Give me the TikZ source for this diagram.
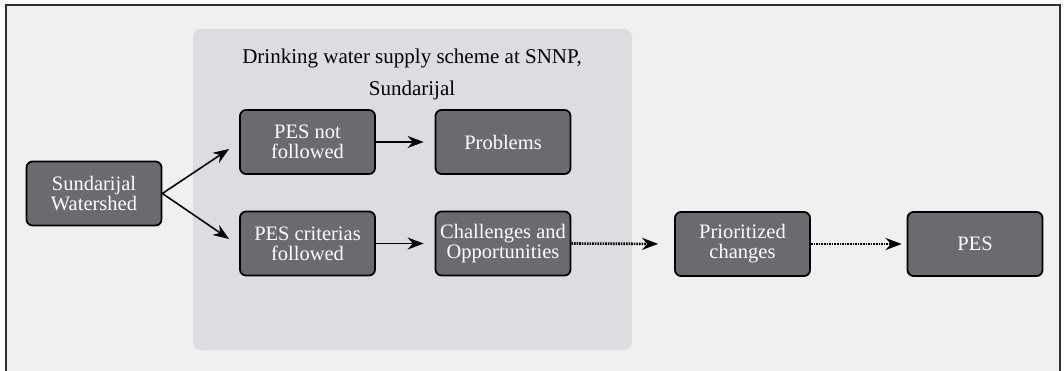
\documentclass[tikz,border=0pt]{standalone}
\usepackage{fontspec}
\setmainfont{Liberation Serif}
\usetikzlibrary{arrows.meta}

\definecolor{bgcol}{HTML}{F0F0F0}
\definecolor{panelcol}{HTML}{DCDDE0}
\definecolor{boxcol}{HTML}{6A6B6F}
\definecolor{framecol}{HTML}{303030}

\tikzset{
  box/.style={draw=black, line width=1.8pt, rounded corners=6pt, fill=boxcol,
    text=white, align=center, minimum width=135pt, minimum height=64pt,
    inner sep=1pt, font=\fontsize{20.5}{20}\selectfont},
  arr/.style={-{Stealth[length=16pt,width=12pt]}, line width=1.6pt},
  dotarr/.style={arr, line width=2.6pt, dash pattern=on 1.6pt off 1pt}
}

\begin{document}
\begin{tikzpicture}[x=1pt,y=-1pt]
  \useasboundingbox (0,0) rectangle (1064,370);
  % frame and shaded panel
  \draw[fill=bgcol, draw=framecol, line width=1.2pt] (6,5) rectangle (1060,380);
  \fill[panelcol, rounded corners=8pt] (193,29) rectangle (632,350);
  \node (title) at (412,74) [align=center, font=\fontsize{21}{32}\selectfont]
    {Drinking water supply scheme at SNNP,\\ Sundarijal};

  \node (sw)[box] at (94,193.5) {Sundarijal\\Watershed};
  \node (pnf)[box] at (307.5,142) {PES not\\followed};
  \node (pcf)[box] at (307.5,243.5) {PES criterias\\followed};
  \node (prob)[box] at (503,142) {Problems};
  \node (chal)[box] at (503,243.5) {Challenges and\\Opportunities};
  \node (prio)[box] at (742.5,244) {Prioritized\\changes};
  \node (pes)[box] at (975,244) {PES};

  \draw[arr] (sw.east) -- ([xshift=-10pt,yshift=-7pt]pnf.west);
  \draw[arr] (sw.east) -- ([xshift=-10pt,yshift=4.5pt]pcf.west);
  \draw[arr, shorten >=11pt] (pnf.east) -- (prob.west);
  \draw[arr, shorten >=11pt] (pcf.east) -- (chal.west);
  \draw[dotarr, shorten >=16pt] (chal.east) -- (prio.west);
  \draw[dotarr, shorten >=5pt] (prio.east) -- (pes.west);
\end{tikzpicture}
\end{document}
